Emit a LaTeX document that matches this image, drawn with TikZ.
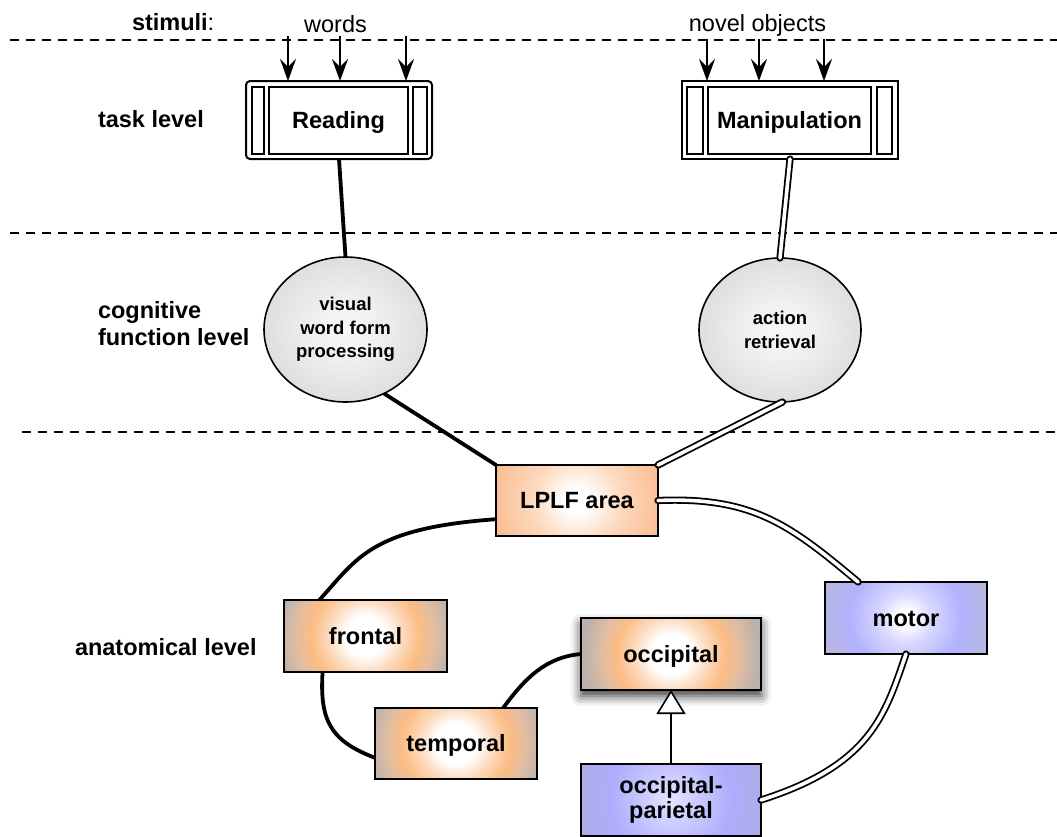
\documentclass[tikz,border=0pt]{standalone}
\usepackage{fontspec}
\setmainfont{Liberation Sans}
\usetikzlibrary{arrows.meta,shapes.geometric,shadows.blur}

% radial fills, used at their natural size (1bp per unit of radius)
\pgfdeclareradialshading{regionfill}{\pgfpointorigin}{rgb(0bp)=(1,1,1); rgb(20bp)=(1,1,1); rgb(36bp)=(0.99,0.86,0.75); rgb(54bp)=(0.99,0.74,0.52); rgb(70bp)=(0.88,0.74,0.64); rgb(86bp)=(0.74,0.70,0.67); rgb(110bp)=(0.74,0.70,0.67)}
\pgfdeclareradialshading{hubfill}{\pgfpointorigin}{rgb(0bp)=(1,1,1); rgb(12bp)=(1,1,1); rgb(45bp)=(0.99,0.85,0.74); rgb(100bp)=(0.98,0.70,0.52); rgb(110bp)=(0.97,0.67,0.48)}
\pgfdeclareradialshading{motorfill}{\pgfpointorigin}{rgb(0bp)=(1,1,1); rgb(10bp)=(0.98,0.98,1); rgb(25bp)=(0.85,0.85,1); rgb(55bp)=(0.70,0.70,1); rgb(100bp)=(0.73,0.73,0.82); rgb(110bp)=(0.73,0.73,0.82)}
\pgfdeclareradialshading{parietalfill}{\pgfpointorigin}{rgb(0bp)=(0.90,0.90,1); rgb(25bp)=(0.80,0.80,1); rgb(60bp)=(0.68,0.68,0.99); rgb(100bp)=(0.68,0.68,0.90); rgb(110bp)=(0.68,0.68,0.90)}
% bubble fill, stretched over the ellipse
\pgfdeclareradialshading{bubblefill}{\pgfpointorigin}{rgb(0bp)=(0.97,0.97,0.97); rgb(8bp)=(0.95,0.95,0.95); rgb(50bp)=(0.76,0.76,0.76)}

\begin{document}
\begin{tikzpicture}[
  x=1pt, y=-1pt,
  every node/.style={inner sep=0pt, outer sep=0pt},
  bigbold/.style={font=\fontsize{23.5}{27}\selectfont\bfseries},
  plain/.style={font=\fontsize{23.5}{27}\selectfont},
  levellabel/.style={bigbold, align=left},
  separator/.style={line width=1.5pt, dash pattern=on 9pt off 7pt},
  stimarrow/.style={line width=1.5pt, -{Stealth[length=22pt,width=16pt,inset=8pt]}},
  frame/.style={draw, line width=2pt, fill=white},
  panel/.style={draw, line width=2pt, bigbold, text height=16.8pt, text depth=0pt},
  bubble/.style={ellipse, draw, line width=1.6pt, shade, shading=bubblefill,
                 font=\fontsize{18.5}{23.5}\selectfont\bfseries, align=center},
  region/.style={draw, line width=2pt, bigbold, minimum width=162pt, minimum height=72pt,
                 path picture={\pgftext[at=\pgfpointanchor{path picture bounding box}{center}]{\pgfuseshading{#1}}}},
  oneline/.style={text height=16.8pt, text depth=0pt},
  wire/.style={line width=3.8pt},
  tube/.style={line width=1.8pt, double=white, double distance=3.6pt, line cap=round},
  inherit/.style={line width=1.6pt, -{Triangle[length=24pt,width=29pt,fill=white]}}
]
\useasboundingbox (0,0) rectangle (1057,836);

% level separators
\draw[separator] (10,40) -- (1057,40);
\draw[separator] (10,233) -- (1057,233);
\draw[separator] (22,432) -- (1057,432);

% level labels
\node[plain, anchor=base west] (stimlabel) at (132,30.5) {\textbf{stimuli}:};
\node[plain, anchor=base] (words) at (335.5,32) {words};
\node[plain, anchor=base] (novel) at (757.5,31.5) {novel objects};
\node[levellabel, anchor=base west] (tasklvl) at (98,127) {task level};
\node[levellabel, anchor=west] (coglvl) at (98,324) {cognitive\\function level};
\node[levellabel, anchor=base west] (anatlvl) at (75,655) {anatomical level};

% task level: Reading
\node[frame, rounded corners=4pt, minimum width=186pt, minimum height=78pt] (readframe) at (339,120) {};
\node[panel, minimum width=12pt, minimum height=67pt] (readL) at (258,120.5) {};
\node[panel, minimum width=139pt, minimum height=67pt] (reading) at (338.5,120.5) {Reading};
\node[panel, minimum width=14pt, minimum height=67pt] (readR) at (420,120.5) {};

% task level: Manipulation
\node[frame, minimum width=216pt, minimum height=78pt] (manipframe) at (790,120) {};
\node[panel, minimum width=16pt, minimum height=67pt] (manipL) at (695,120.5) {};
\node[panel, minimum width=163pt, minimum height=67pt] (manip) at (789.5,120.5) {Manipulation};
\node[panel, minimum width=15pt, minimum height=67pt] (manipR) at (884.5,120.5) {};

% stimulus inputs
\coordinate (wa) at (288,36);
\coordinate (wb) at (340,36);
\coordinate (wc) at (406,36);
\coordinate (na) at (707,39);
\coordinate (nb) at (759,39);
\coordinate (nc) at (824,39);
\foreach \s in {wa,wb,wc}
  \draw[stimarrow] (\s) -- (\s |- readframe.north);
\foreach \s in {na,nb,nc}
  \draw[stimarrow] (\s) -- (\s |- manipframe.north);

% cognitive functions
\node[bubble, minimum width=163pt, minimum height=145pt] (vwfp) at (345.5,329.5) {visual\\word form\\processing};
\node[bubble, minimum width=162pt, minimum height=144pt] (ar) at (780,330) {action\\retrieval};

% anatomical regions
\node[region=hubfill, oneline, minimum height=71pt] (lplf) at (577,500.5) {LPLF area};
\node[region=regionfill, oneline, minimum width=163pt] (frontal) at (365.5,636) {frontal};
\node[region=regionfill, oneline, minimum height=71pt] (temporal) at (456,743.5) {temporal};
\node[region=regionfill, oneline, minimum width=180pt,
      blur shadow={shadow xshift=0pt, shadow yshift=-6pt, shadow blur radius=10pt, shadow opacity=80}]
      (occipital) at (671,654) {occipital};
\node[region=motorfill, oneline] (motor) at (906,618) {motor};
\node[region=parietalfill, minimum width=180pt, align=center, font=\fontsize{23.5}{25}\selectfont\bfseries]
      (occpar) at (671,800) {occipital-\\parietal};

% reading pathway
\draw[wire] (readframe.south) -- (vwfp.north);
\draw[wire] (vwfp.-59) -- (lplf.north west);
\draw[wire] (lplf.193) .. controls +(-125,9) and +(38,-42) .. (frontal.142);
\draw[wire] (frontal.220) .. controls +(-3,48) and +(-45,-17) .. (temporal.190);
\draw[wire] (temporal.37) .. controls +(22,-30) and +(-35,3) .. (occipital.west);

% manipulation pathway
\draw[tube] (manipframe.south) -- (ar.north);
\draw[tube] (ar.-88) -- (lplf.north east);
\draw[tube] (lplf.east) .. controls +(95,-4) and +(-68,-57) .. (motor.143);
\draw[tube] (motor.south) .. controls +(-21,61) and +(110,-35) .. (occpar.east);

% subregion relation
\draw[inherit] (occpar.north) -- (occipital.south);
\end{tikzpicture}
\end{document}
